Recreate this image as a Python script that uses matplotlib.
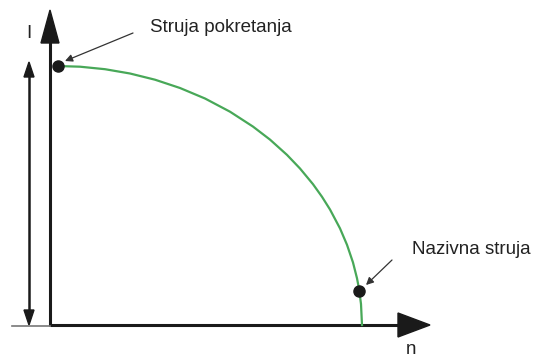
import matplotlib.pyplot as plt
import numpy as np

# krivulja struje u ovisnosti o brzini (očitano sa slike, u pikselima)
krivulja_x = [57, 80, 105, 130, 155, 180, 205, 230, 253, 270, 287, 300,
              313, 322, 330, 340, 347, 353, 357, 359, 361, 362]
krivulja_y = [66, 66.7, 69.2, 73.5, 79.7, 88.0, 98.5, 111.7, 126.6, 139.6, 154.9, 168.5,
              184.2, 196.8, 209.5, 228.4, 244.8, 262.5, 278.3, 288.8, 304, 325]

tocke_x = [58, 359]
tocke_y = [66, 291]
oznake = ['Struja pokretanja', 'Nazivna struja']
oznake_pos = [(150, 28), (412, 250)]
strelice_od = [(133, 33), (392, 260)]
strelice_do = [(65, 61), (366, 285)]

fig = plt.figure(figsize=(5.34, 3.58), dpi=100)
ax = fig.add_axes([0, 0, 1, 1])
ax.set_xlim(0, 534)
ax.set_ylim(358, 0)
ax.axis('off')

crna = '#1a1a1a'

# osi
ax.plot([50, 50], [326, 40], color=crna, lw=2.2, solid_capstyle='butt')
ax.fill([41, 59, 50], [43, 43, 10], color=crna)
ax.plot([50, 400], [325, 325], color=crna, lw=2.2, solid_capstyle='butt')
ax.fill([398, 398, 430], [313, 337, 325], color=crna)

# donja siva linija
ax.plot([12, 50], [326, 326], color='#777777', lw=1.2)

# dvostruka strelica lijevo
ax.plot([29, 29], [75, 312], color=crna, lw=1.8)
ax.fill([24, 34, 29], [77, 77, 62], color=crna)
ax.fill([24, 34, 29], [310, 310, 325], color=crna)

# krivulja
ax.plot(krivulja_x, krivulja_y, color='#48a858', lw=1.6, solid_joinstyle='round')
ax.plot(tocke_x, tocke_y, 'o', color=crna, markersize=8)

# oznake i strelice
for txt, pos, a, b in zip(oznake, oznake_pos, strelice_od, strelice_do):
    ax.text(pos[0], pos[1], txt, fontsize=13.5, family='Liberation Sans',
            color='#222222', va='center', ha='left')
    ax.annotate('', xy=b, xytext=a,
                arrowprops=dict(arrowstyle='-|>', color='#333333', lw=0.9,
                                mutation_scale=11, shrinkA=0, shrinkB=0))

ax.text(29, 33, 'I', fontsize=13.5, family='Liberation Sans', color='#222222',
        ha='center', va='center')
ax.text(411, 349, 'n', fontsize=13.5, family='Liberation Sans', color='#222222',
        ha='center', va='center')

plt.savefig('out.png', dpi=100)
